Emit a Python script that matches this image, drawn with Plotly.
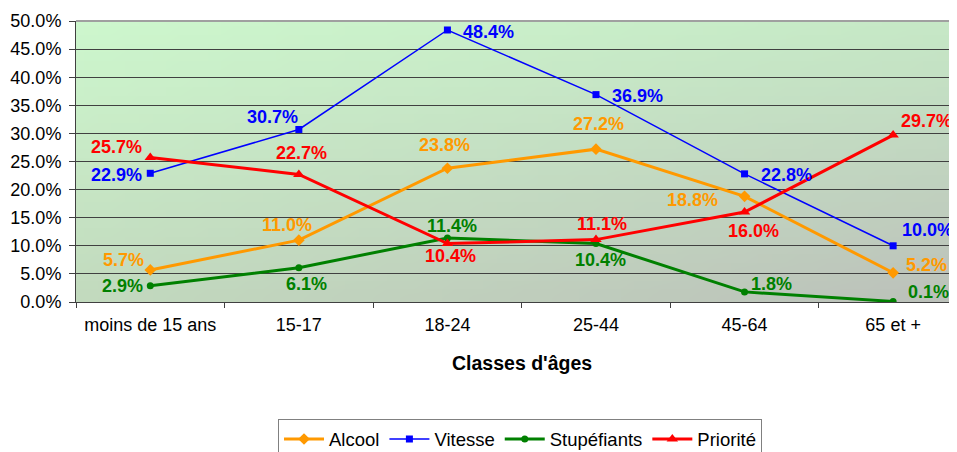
import base64, struct, zlib
import plotly.graph_objects as go

categories = ["moins de 15 ans", "15-17", "18-24", "25-44", "45-64", "65 et +"]
alcool = [5.7, 11.0, 23.8, 27.2, 18.8, 5.2]
vitesse = [22.9, 30.7, 48.4, 36.9, 22.8, 10.0]
stupefiants = [2.9, 6.1, 11.4, 10.4, 1.8, 0.1]
priorite = [25.7, 22.7, 10.4, 11.1, 16.0, 29.7]
y_ticks = [0, 5, 10, 15, 20, 25, 30, 35, 40, 45, 50]

# label offsets (pixels): (xshift, yshift) per point
off_alcool = [(-27, 10), (-12, 15), (-3, 23), (3, 25), (-52, -4), (33, 8)]
off_vitesse = [(-34, -2), (-26, 12), (41, -2), (42, -1), (42, -1), (34, 16)]
off_stup = [(-28, 0), (8, -16), (5, 12), (5, -16), (27, 8), (35, 9)]
off_prio = [(-34, 11), (3, 21), (3, -12), (6, 16), (9, -19), (33, 14)]

FONT = "Liberation Sans, Arial, sans-serif"

def gradient_png(w, h, tl, tr, bl, br):
    rows = []
    for j in range(h):
        v = j / (h - 1)
        row = bytearray([0])
        for i in range(w):
            u = i / (w - 1)
            for c in range(3):
                top = tl[c] * (1 - u) + tr[c] * u
                bot = bl[c] * (1 - u) + br[c] * u
                row.append(int(round(top * (1 - v) + bot * v)))
        rows.append(bytes(row))
    raw = b"".join(rows)
    def chunk(t, d):
        c = struct.pack(">I", len(d)) + t + d
        return c + struct.pack(">I", zlib.crc32(t + d) & 0xffffffff)
    png = b"\x89PNG\r\n\x1a\n" + chunk(b"IHDR", struct.pack(">IIBBBBB", w, h, 8, 2, 0, 0, 0)) \
        + chunk(b"IDAT", zlib.compress(raw, 9)) + chunk(b"IEND", b"")
    return "data:image/png;base64," + base64.b64encode(png).decode()

bg = gradient_png(64, 32, (205, 247, 205), (198, 232, 198), (194, 218, 190), (188, 193, 186))

series = [
    ("Alcool", alcool, "#FF9900", 3, "diamond", 9, off_alcool),
    ("Vitesse", vitesse, "#0000FF", 1.5, "square", 7, off_vitesse),
    ("Stupéfiants", stupefiants, "#008000", 3, "circle", 7, off_stup),
    ("Priorité", priorite, "#FF0000", 3, "triangle-up", 10, off_prio),
]

fig = go.Figure()
annotations = []
for name, vals, col, lw, sym, ms, offs in series:
    fig.add_trace(go.Scatter(
        x=categories, y=vals, name=name, mode="lines+markers",
        line=dict(color=col, width=lw),
        marker=dict(symbol=sym, size=ms, color=col),
        hoverinfo="skip",
    ))
    for c, v, (dx, dy) in zip(categories, vals, offs):
        annotations.append(dict(
            x=c, y=v, text=f"{v:.1f}%", showarrow=False,
            xanchor="center", yanchor="middle", xshift=dx, yshift=dy,
            font=dict(family=FONT, size=18, color=col, weight="bold"),
        ))

annotations.append(dict(
    x=0.506, y=-0.217, xref="paper", yref="paper", text="<b>Classes d'âges</b>",
    showarrow=False, xanchor="center", yanchor="middle",
    font=dict(family=FONT, size=19.5, color="#000000"),
))

# page body adds an 8px offset; margins compensate so the plot sits at x 76-957, y 21-302
fig.update_layout(
    width=949, height=444,
    margin=dict(l=68, r=0, t=13, b=150, autoexpand=False),
    paper_bgcolor="white", plot_bgcolor="rgba(0,0,0,0)",
    font=dict(family=FONT, size=18, color="#000000"),
    showlegend=True,
    legend=dict(
        orientation="h", x=0.2293, y=-0.418, xanchor="left", yanchor="top",
        bordercolor="#808080", borderwidth=1, bgcolor="white",
        font=dict(family=FONT, size=18.5, color="#000000"),
        itemwidth=40, tracegroupgap=0,
    ),
    images=[dict(source=bg, xref="paper", yref="paper", x=0, y=1, sizex=1, sizey=1,
                 sizing="stretch", layer="below", xanchor="left", yanchor="top")],
    annotations=annotations,
    shapes=[dict(type="line", xref="paper", yref="paper", x0=0, x1=1, y0=1, y1=1,
                 line=dict(color="#A0A0A0", width=2), layer="above")],
)

fig.update_xaxes(
    type="category", range=[-0.5, 5.43], showgrid=False, automargin=False,
    showline=True, linecolor="#404040", linewidth=1,
    ticks="outside", tickson="boundaries", ticklen=5, tickcolor="#404040",
    ticklabelstandoff=6,
    tickfont=dict(family=FONT, size=18, color="#000000"),
    fixedrange=True,
)
fig.update_yaxes(
    range=[0, 50], tickvals=y_ticks, ticktext=[f"{t:.1f}%" for t in y_ticks],
    showgrid=True, gridcolor="#404040", gridwidth=1, automargin=False,
    showline=True, linecolor="#404040", linewidth=1,
    ticks="outside", ticklen=6, tickcolor="#404040", ticklabelstandoff=4,
    tickfont=dict(family=FONT, size=18, color="#000000"),
    zeroline=False, fixedrange=True,
)

fig.write_html("out.html")
